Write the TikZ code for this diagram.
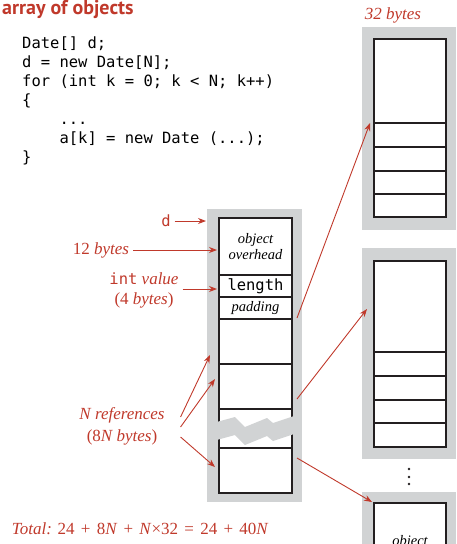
\documentclass[tikz,border=0pt]{standalone}
\usepackage{fontspec}
\setmainfont{Liberation Serif}
\newfontfamily\codefont{DejaVu Sans Mono}
\newfontfamily\headfont{PT Sans}
\usetikzlibrary{arrows.meta}

\definecolor{arrred}{RGB}{192,57,43}
\definecolor{memgray}{RGB}{209,211,212}
\definecolor{cellline}{RGB}{35,31,32}

\newcommand{\op}[1]{\hspace{2pt}#1\hspace{2pt}}

\begin{document}
\begin{tikzpicture}[
            x = 1pt, y = -1pt, % one unit per pixel, y downwards
            > = {Stealth[length=8pt,width=6pt]}, % arrow head style
            cell/.style = {draw=cellline, line width=1.1pt, fill=white, inner sep=0pt,
                           outer sep=0pt, anchor=north west, minimum width=73pt},
            ocell/.style = {cell, minimum width=72pt},
            ptr/.style = {->, draw=arrred, line width=0.9pt},
            lbl/.style = {text=arrred, inner sep=2pt, outer sep=2pt,
                          font=\fontsize{17}{22}\selectfont},
            cnote/.style = {font=\itshape\fontsize{14.5}{16}\selectfont, align=center}
        ]

\useasboundingbox (0,0) rectangle (456,544);
\clip (0,0) rectangle (456,544);

% title and code
\node[anchor=base west, inner sep=0pt, text=arrred,
      font=\headfont\bfseries\fontsize{20}{22}\selectfont] (title) at (2,14) {array of objects};
\node[anchor=base west, inner sep=0pt, align=left,
      font=\codefont\fontsize{15.5}{19}\selectfont] (code) at (22,162)
   {Date[] d;\\
    d = new Date[N];\\
    for (int k = 0; k < N; k++)\\
    \{\\
    \phantom{xxxx}...\\
    \phantom{xxxx}a[k] = new Date (...);\\
    \}};

% the array
\fill[memgray] (207,209) rectangle (302,502);
\node[cell, minimum height=57pt, cnote] (ovh) at (219,218) {object\\overhead};
\node[cell, minimum height=22pt, font=\codefont\fontsize{15.5}{18}\selectfont] (len) at (219,275) {length};
\node[cell, minimum height=22pt, cnote] (pad) at (219,297) {padding};
\node[cell, minimum height=45pt] (ref1) at (219,319) {};
\node[cell, minimum height=45pt] (ref2) at (219,364) {};
\node[cell, minimum height=39pt] (ref3) at (219,409) {};
\node[cell, minimum height=45pt] (refN) at (219,448) {};
\fill[memgray] (213,423) -- (235,417) -- (245,427) -- (267,418) -- (273,423) -- (297,415)
   -- (297,433) -- (273,441) -- (267,436) -- (245,445) -- (235,435) -- (213,441) -- cycle;

% the objects
\fill[memgray] (362,27) rectangle (456,230);
\node[ocell, minimum height=84pt] (o1h) at (374,39) {};
\node[ocell, minimum height=24pt] (o1a) at (374,123) {};
\node[ocell, minimum height=24pt] (o1b) at (374,147) {};
\node[ocell, minimum height=23pt] (o1c) at (374,171) {};
\node[ocell, minimum height=23pt] (o1d) at (374,194) {};

\fill[memgray] (362,248) rectangle (456,459);
\node[ocell, minimum height=91pt] (o2h) at (374,261) {};
\node[ocell, minimum height=24pt] (o2a) at (374,352) {};
\node[ocell, minimum height=24pt] (o2b) at (374,376) {};
\node[ocell, minimum height=23pt] (o2c) at (374,400) {};
\node[ocell, minimum height=24pt] (o2d) at (374,423) {};

\foreach \dy in {469,477,484}
   \fill[cellline] (409,\dy) circle (1.4pt);

\fill[memgray] (362,492) rectangle (456,600);
\node[ocell, minimum height=91pt, cnote] (o3h) at (374,503) {object\\overhead};

% labels
\node[lbl, text=arrred] (b32) at (393,15) {\itshape 32 bytes};
\node[lbl, font=\codefont\fontsize{15.5}{18}\selectfont] (dlbl) at (166,221) {d};
\node[lbl, anchor=east] (b12) at (133,250) {12 \textit{bytes}};
\node[lbl, align=center, font=\fontsize{17}{20}\selectfont] (intlbl) at (144,290)
   {{\codefont\fontsize{15.5}{18}\selectfont int} \textit{value}\\(4 \textit{bytes})};
\node[lbl, align=center] (refs) at (122,426) {\textit{N references}\\(8\textit{N bytes})};
\node[lbl, anchor=base west, inner sep=0pt] (total) at (10,534)
   {\textit{Total:} 24 \op{+} 8\textit{N} \op{+} \textit{N}×32 \op{=} 24 \op{+} 40\textit{N}};

\coordinate (dtip) at (206,221);
\coordinate (ovhtip) at (217,250);
\coordinate (lentip) at (217,289);
\coordinate (rtip1) at (210,355);
\coordinate (rtip2) at (215,379);
\coordinate (rtip3) at (215,467);

\path (dlbl) edge[ptr] (dtip);
\path (b12.east) edge[ptr] (ovhtip);
\path (intlbl.east |- lentip) edge[ptr] (lentip);
\path ([xshift=12pt,yshift=9pt]refs.east) edge[ptr] (rtip1);
\path ([xshift=12pt,yshift=-1pt]refs.east) edge[ptr] (rtip2);
\path ([xshift=12pt,yshift=-11pt]refs.east) edge[ptr] (rtip3);

\path ([xshift=5pt,yshift=1pt]ref1.north east) edge[ptr] ([xshift=-4pt]o1a.north west);
\path ([xshift=5pt,yshift=10pt]ref2.south east) edge[ptr] ([xshift=-7pt,yshift=-2.5pt]o2h.west);
\path ([xshift=5pt,yshift=-10pt]refN.north east) edge[ptr] ([xshift=-2pt,yshift=1pt]o3h.north west);
\end{tikzpicture}
\end{document}
